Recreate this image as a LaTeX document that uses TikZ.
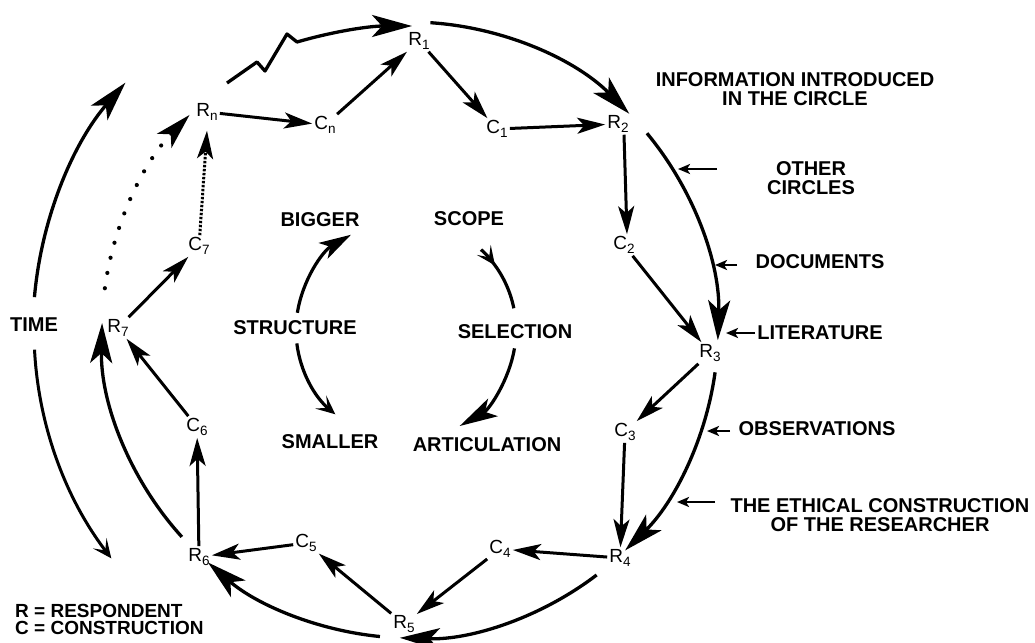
\documentclass[tikz,border=0pt]{standalone}
\usepackage{fontspec}
\setmainfont{Liberation Sans}
\usetikzlibrary{arrows.meta,calc}
\newcommand{\sublbl}[2]{#1\raisebox{-4pt}{\fontsize{13.5}{13.5}\selectfont #2}}
\begin{document}
\begin{tikzpicture}[x=1pt,y=-1pt,
  lbl/.style={font=\fontsize{19}{19}\selectfont, inner sep=2pt},
  txt/.style={font=\bfseries\fontsize{20}{19}\selectfont, inner sep=0pt, align=center},
  bigarrow/.style={line width=3.3pt, -{Stealth[length=40pt,width=22pt,inset=10pt]}},
  chord/.style={line width=3pt, -{Stealth[length=28pt,width=16pt,inset=7pt]}},
  ptr/.style={line width=2.6pt, -{Stealth[length=12pt,width=10pt,inset=3pt]}},
  innerarc/.style={line width=3.2pt},
  smalltip/.style={-{Stealth[length=19pt,width=17pt,inset=9pt]}},
]
\useasboundingbox[fill=white] (0,0) rectangle (1035,642);
\coordinate (O) at (410,330);
\coordinate (I) at (406,330);

% respondent / construction nodes
\node[lbl] (R1) at (419,41) {\sublbl{R}{1}};
\node[lbl] (C1) at (497,129) {\sublbl{C}{1}};
\node[lbl] (R2) at (618,124) {\sublbl{R}{2}};
\node[lbl] (C2) at (624,245) {\sublbl{C}{2}};
\node[lbl] (R3) at (710,353) {\sublbl{R}{3}};
\node[lbl] (C3) at (625,432) {\sublbl{C}{3}};
\node[lbl] (R4) at (620,558) {\sublbl{R}{4}};
\node[lbl] (C4) at (500,549) {\sublbl{C}{4}};
\node[lbl] (R5) at (404,624) {\sublbl{R}{5}};
\node[lbl] (C5) at (306,543) {\sublbl{C}{5}};
\node[lbl] (R6) at (199,557) {\sublbl{R}{6}};
\node[lbl] (C6) at (197,427) {\sublbl{C}{6}};
\node[lbl] (R7) at (118,328) {\sublbl{R}{7}};
\node[lbl] (C7) at (199,246) {\sublbl{C}{7}};
\node[lbl] (Rn) at (207,112) {\sublbl{R}{n}};
\node[lbl] (Cn) at (325,125) {\sublbl{C}{n}};

% chords
\draw[chord] (Rn) -- (Cn);
\draw[chord] (Cn) -- (R1);
\draw[chord] (R1) -- (C1);
\draw[chord] (C1) -- (R2);
\draw[chord] ([xshift=6pt]R2.south) -- ([xshift=3pt]C2.north);
\draw[chord] (C2) -- (R3);
\draw[chord] (R3) -- (C3);
\draw[chord] (C3) -- (R4);
\draw[chord] (R4) -- (C4);
\draw[chord] (C4) -- (R5);
\draw[chord] (R5) -- (C5);
\draw[chord] (C5) -- (R6);
\draw[chord] (R6) -- (C6);
\draw[chord] (C6) -- (R7);
\draw[chord] (R7) -- (C7);
\draw[chord, dash pattern=on 2.4pt off 1.6pt] (C7) -- ([yshift=-8pt]Rn.south);

% outer circle
\draw[bigarrow, line join=round] (227,83) -- (257,62) -- (265,71) -- (287,34) -- (297,42) .. controls (335,31) and (370,26) .. (412,26);
\draw[bigarrow] ($(O)+(86.2:308pt)$) arc[start angle=86.2, end angle=44.6, radius=308pt];
\draw[bigarrow] ($(O)+(39.7:308pt)$) arc[start angle=39.7, end angle=-1.9, radius=308pt];
\draw[bigarrow] ($(O)+(-7.9:308pt)$) arc[start angle=-7.9, end angle=-45.7, radius=308pt];
\draw[bigarrow] ($(O)+(-52.7:308pt)$) arc[start angle=-52.7, end angle=-91.9, radius=308pt];
\draw[bigarrow] ($(O)+(-95.6:308pt)$) arc[start angle=-95.6, end angle=-131, radius=308pt];
\draw[bigarrow] ($(O)+(-137.8:308pt)$) arc[start angle=-137.8, end angle=-181.3, radius=308pt];
\draw[line width=4.2pt, line cap=round, dash pattern=on 0pt off 15.5pt, -{Stealth[length=36pt,width=20pt,inset=9pt]}] ($(O)+(172.2:308pt)$) arc[start angle=172.2, end angle=135.7, radius=308pt];

% time
\draw[bigarrow] ($(O)+(175:377pt)$) arc[start angle=175, end angle=139, radius=377pt];
\draw[line width=3pt, smalltip] ($(O)+(183:376pt)$) arc[start angle=183, end angle=217.4, radius=376pt];
\node[txt] (time) at (34,325) {TIME};

% inner circle
\draw[innerarc, -{Stealth[length=32pt,width=18pt,inset=8pt]}] ($(I)+(171:110pt)$) arc[start angle=171, end angle=120, radius=110pt];
\draw[innerarc, smalltip] ($(I)+(187:110pt)$) arc[start angle=187, end angle=230, radius=110pt];
\draw[innerarc] ($(I)+(11.4:110pt)$) arc[start angle=11.4, end angle=40, radius=110pt];
\draw[innerarc, smalltip] ($(I)+(47:110pt)$) arc[start angle=47, end angle=36, radius=110pt];
\draw[innerarc, -{Stealth[length=38pt,width=20pt,inset=9pt]}] ($(I)+(-9.6:110pt)$) arc[start angle=-9.6, end angle=-60.8, radius=110pt];

\node[txt] (bigger) at (320,220) {BIGGER};
\node[txt] (scope) at (469,219) {SCOPE};
\node[txt] (structure) at (295,328) {STRUCTURE};
\node[txt] (selection) at (515,332) {SELECTION};
\node[txt] (smaller) at (330,442) {SMALLER};
\node[txt] (articulation) at (487,445) {ARTICULATION};

% information labels
\node[txt] (info) at (795,89) {INFORMATION INTRODUCED\\IN THE CIRCLE};
\node[txt] (oc) at (811,178) {OTHER\\CIRCLES};
\node[txt] (doc) at (820,262) {DOCUMENTS};
\node[txt] (lit) at (820,333) {LITERATURE};
\node[txt] (obs) at (817,429) {OBSERVATIONS};
\node[txt] (eth) at (880,515) {THE ETHICAL CONSTRUCTION\\OF THE RESEARCHER};

\coordinate (tOC) at (717,169); \coordinate (hOC) at (678,169);
\coordinate (tDOC) at (737,265); \coordinate (hDOC) at (715,265);
\coordinate (tLIT) at (755,333); \coordinate (hLIT) at (726,333);
\coordinate (tOBS) at (730,431); \coordinate (hOBS) at (707,431);
\coordinate (tETH) at (715,502); \coordinate (hETH) at (677,502);
\draw[ptr] (tOC) -- (hOC);
\draw[ptr] (tDOC) -- (hDOC);
\draw[ptr] (tLIT) -- (hLIT);
\draw[ptr] (tOBS) -- (hOBS);
\draw[ptr] (tETH) -- (hETH);

% legend
\node[txt, anchor=west, align=left, font=\bfseries\fontsize{19}{17}\selectfont] (legend) at (15,619) {R = RESPONDENT\\C = CONSTRUCTION};
\end{tikzpicture}
\end{document}
